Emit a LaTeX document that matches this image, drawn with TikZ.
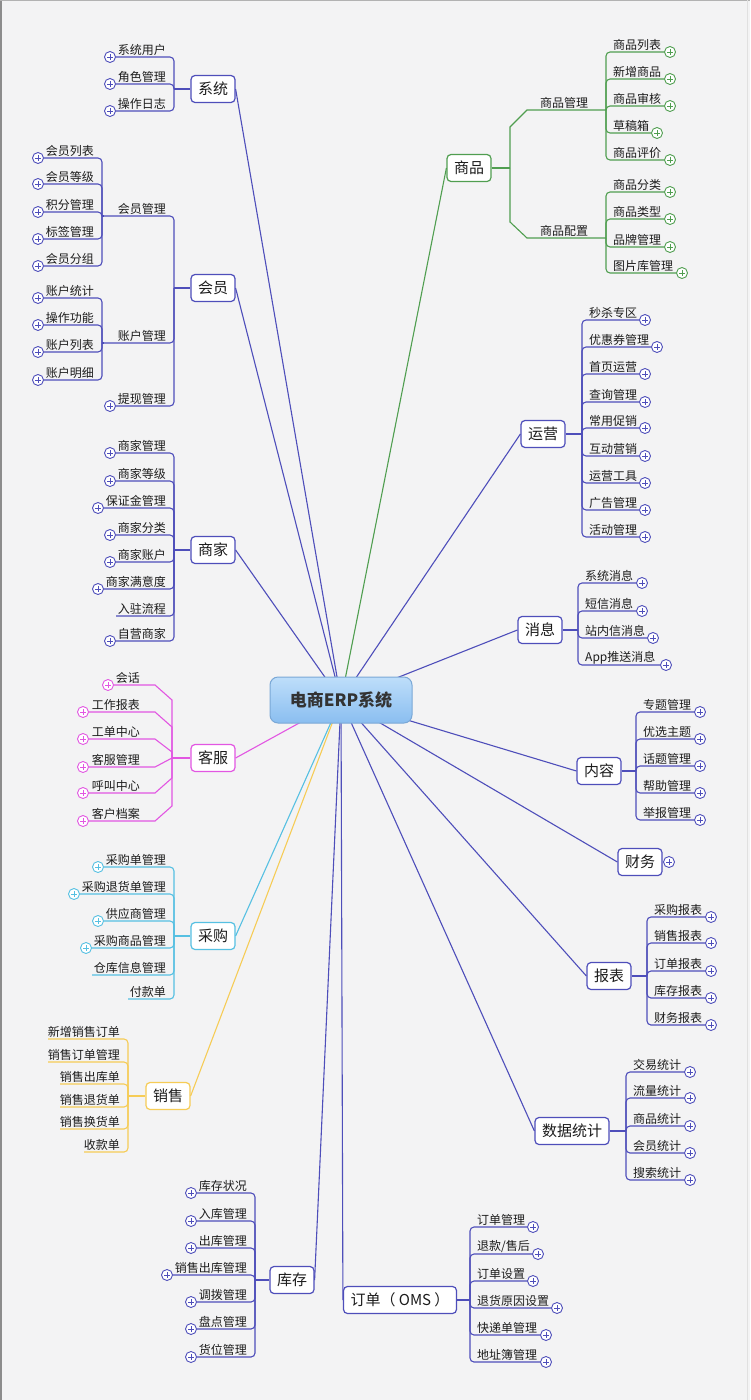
\documentclass[tikz,border=0pt]{standalone}
\usepackage{fontspec}
\setmainfont{Noto Sans CJK SC}
\usetikzlibrary{calc}
\definecolor{bgc}{RGB}{243,243,244}
\definecolor{cblue}{RGB}{78,78,186}
\definecolor{cgreen}{RGB}{80,158,80}
\definecolor{cmag}{RGB}{226,86,226}
\definecolor{ccyan}{RGB}{86,192,226}
\definecolor{cyel}{RGB}{246,204,86}
\definecolor{ctext}{RGB}{28,28,28}
\definecolor{cenb}{RGB}{122,168,214}
\definecolor{centop}{RGB}{190,222,250}
\definecolor{cenbot}{RGB}{138,190,240}
\newcommand\LL[6]{%
  \node[lbl,anchor=south east] (#1) at (#2-7,#3) {#4};
  \node[pls] (#1p) at (#5,#3) {};
  \draw[br] (#1p.east) -- (#2,#3) -- (#2,#6);}
\newcommand\LN[6]{%
  \node[lbl,anchor=south east] (#1) at (#2-7,#3) {#4};
  \coordinate (#1p) at (#5,#3);
  \draw[br] (#1p) -- (#2,#3) -- (#2,#6);}
\newcommand\RL[6]{%
  \node[lbl,anchor=south west] (#1) at (#2+6,#3) {#4};
  \node[pls] (#1p) at (#5,#3) {};
  \draw[br] (#1p.west) -- (#2,#3) -- (#2,#6);}
\newcommand\LS[5]{%
  \node[lbl,anchor=south east] (#1) at (141,#2) {#3};
  \node[pls] (#1p) at (#4,#2) {};
  \draw[conn] (#1p.east) -- (155,#2) -- (172,#5) -- (172,758);}
\begin{document}
\begin{tikzpicture}[x=1pt,y=-1pt,
  lbl/.style={font=\fontsize{12}{13}\selectfont, text=ctext, inner sep=1pt},
  pls/.style={circle, draw, fill=white, line width=0.9pt, minimum size=11pt, inner sep=0pt,
    path picture={\draw[line width=0.9pt]
      ($(path picture bounding box.center)+(-2.8,0)$) -- ($(path picture bounding box.center)+(2.8,0)$)
      ($(path picture bounding box.center)+(0,-2.8)$) -- ($(path picture bounding box.center)+(0,2.8)$);}},
  br/.style={line width=1.1pt, rounded corners=4pt},
  conn/.style={line width=1.1pt},
  topic/.style={draw, fill=white, rounded corners=4pt, line width=1.2pt, minimum height=27pt,
    inner xsep=7pt, inner ysep=0pt, text=ctext, font=\fontsize{15}{15}\selectfont},
]
\fill[bgc] (0,0) rectangle (750,1400);
\useasboundingbox (0,0) rectangle (750,1400);
\draw[black!45, line width=2pt] (1,0) -- (1,1400);
\draw[black!30, line width=1pt] (0,0.5) -- (750,0.5);
\draw[black!12, line width=1pt] (747.5,0) -- (747.5,1400);
\coordinate (c0) at (341,700);

% ---------------- 系统
\begin{scope}[color=cblue]
\node[topic] (xt) at (213,89) {系统};
\LL{xt1}{174}{57}{系统用户}{110}{89}
\LL{xt2}{174}{84}{角色管理}{110}{89}
\LL{xt3}{174}{111}{操作日志}{110}{89}
\coordinate (xtj) at (174,89);
\draw[conn] (xtj) -- (xt.west);
\draw[conn] (c0) -- (xt.east);
\end{scope}

% ---------------- 会员
\begin{scope}[color=cblue]
\node[topic] (hy) at (213,288) {会员};
\LN{hy1}{174}{216}{会员管理}{104}{288}
\LN{hy2}{174}{343}{账户管理}{104}{288}
\LL{hy3}{174}{406}{提现管理}{110}{288}
\coordinate (hyj) at (174,288);
\draw[conn] (hyj) -- (hy.west);
\LL{hya1}{102}{158}{会员列表}{38}{216}
\LL{hya2}{102}{184}{会员等级}{38}{216}
\LL{hya3}{102}{212}{积分管理}{38}{216}
\LL{hya4}{102}{239}{标签管理}{38}{216}
\LL{hya5}{102}{266}{会员分组}{38}{216}
\coordinate (hyaj) at (102,216);
\draw[conn] (hyaj) -- (hy1p);
\LL{hyb1}{102}{298}{账户统计}{38}{343}
\LL{hyb2}{102}{325}{操作功能}{38}{343}
\LL{hyb3}{102}{352}{账户列表}{38}{343}
\LL{hyb4}{102}{380}{账户明细}{38}{343}
\coordinate (hybj) at (102,343);
\draw[conn] (hybj) -- (hy2p);
\draw[conn] (c0) -- (hy.east);
\end{scope}

% ---------------- 商家
\begin{scope}[color=cblue]
\node[topic] (sj) at (213,550) {商家};
\LL{sj1}{174}{453}{商家管理}{110}{550}
\LL{sj2}{174}{481}{商家等级}{110}{550}
\LL{sj3}{174}{508}{保证金管理}{98}{550}
\LL{sj4}{174}{535}{商家分类}{110}{550}
\LL{sj5}{174}{562}{商家账户}{110}{550}
\LL{sj6}{174}{589}{商家满意度}{98}{550}
\LN{sj7}{174}{616}{入驻流程}{116}{550}
\LL{sj8}{174}{641}{自营商家}{110}{550}
\coordinate (sjj) at (174,550);
\draw[conn] (sjj) -- (sj.west);
\draw[conn] (c0) -- (sj.east);
\end{scope}

% ---------------- 客服
\begin{scope}[color=cmag]
\node[topic] (kf) at (213,758) {客服};
\LS{kf1}{685}{会话}{108}{700}
\LS{kf2}{712}{工作报表}{83}{727}
\LS{kf3}{739}{工单中心}{83}{752}
\LS{kf4}{767}{客服管理}{83}{758}
\LS{kf5}{793}{呼叫中心}{83}{778}
\LS{kf6}{821}{客户档案}{83}{806}
\coordinate (kfj) at (172,758);
\draw[conn] (kfj) -- (kf.west);
\draw[conn] (c0) -- (kf.east);
\end{scope}

% ---------------- 采购
\begin{scope}[color=ccyan]
\node[topic] (cg) at (213,936) {采购};
\LL{cg1}{174}{867}{采购单管理}{98}{936}
\LL{cg2}{174}{894}{采购退货单管理}{74}{936}
\LL{cg3}{174}{921}{供应商管理}{98}{936}
\LL{cg4}{174}{948}{采购商品管理}{86}{936}
\LN{cg5}{174}{975}{仓库信息管理}{92}{936}
\LN{cg6}{174}{999}{付款单}{128}{936}
\coordinate (cgj) at (174,936);
\draw[conn] (cgj) -- (cg.west);
\draw[conn] (c0) -- (cg.east);
\end{scope}

% ---------------- 销售
\begin{scope}[color=cyel]
\node[topic] (xs) at (168,1096) {销售};
\LN{xs1}{128}{1039}{新增销售订单}{48}{1096}
\LN{xs2}{128}{1062}{销售订单管理}{48}{1096}
\LN{xs3}{128}{1084}{销售出库单}{60}{1096}
\LN{xs4}{128}{1107}{销售退货单}{60}{1096}
\LN{xs5}{128}{1129}{销售换货单}{60}{1096}
\LN{xs6}{128}{1152}{收款单}{84}{1096}
\coordinate (xsj) at (128,1096);
\draw[conn] (xsj) -- (xs.west);
\draw[conn] (c0) -- (xs.east);
\end{scope}

% ---------------- 库存
\begin{scope}[color=cblue]
\node[topic] (kc) at (292,1280) {库存};
\LL{kc1}{255}{1193}{库存状况}{191}{1280}
\LL{kc2}{255}{1221}{入库管理}{191}{1280}
\LL{kc3}{255}{1248}{出库管理}{191}{1280}
\LL{kc4}{255}{1275}{销售出库管理}{167}{1280}
\LL{kc5}{255}{1302}{调拨管理}{191}{1280}
\LL{kc6}{255}{1329}{盘点管理}{191}{1280}
\LL{kc7}{255}{1357}{货位管理}{191}{1280}
\coordinate (kcj) at (255,1280);
\draw[conn] (kcj) -- (kc.west);
\draw[conn] (c0) -- (kc.east);
\end{scope}

% ---------------- 订单
\begin{scope}[color=cblue]
\node[topic, minimum width=110pt] (dd) at (400,1300) {订单（ OMS ）};
\RL{dd1}{470}{1227}{订单管理}{533}{1300}
\RL{dd2}{470}{1254}{退款/售后}{538}{1300}
\RL{dd3}{470}{1281}{订单设置}{533}{1300}
\RL{dd4}{470}{1308}{退货原因设置}{557}{1300}
\RL{dd5}{470}{1335}{快递单管理}{546}{1300}
\RL{dd6}{470}{1362}{地址簿管理}{546}{1300}
\coordinate (ddj) at (470,1300);
\draw[conn] (dd.east) -- (ddj);
\draw[conn] (c0) -- (dd.west);
\end{scope}

% ---------------- 商品
\begin{scope}[color=cgreen]
\node[topic] (sp) at (469,168) {商品};
\coordinate (spj) at (510,168);
\draw[conn] (sp.east) -- (spj);
\node[lbl, anchor=south] (spa) at (564,110) {商品管理};
\node[lbl, anchor=south] (spb) at (564,238) {商品配置};
\coordinate (spae) at (606,110);
\coordinate (spbe) at (606,238);
\draw[conn] (spj) -- (510,127) -- (527,110) -- (spae);
\draw[conn] (spj) -- (510,222) -- (527,238) -- (spbe);
\RL{spa1}{606}{52}{商品列表}{670}{110}
\RL{spa2}{606}{79}{新增商品}{670}{110}
\RL{spa3}{606}{106}{商品审核}{670}{110}
\RL{spa4}{606}{133}{草稿箱}{657}{110}
\RL{spa5}{606}{160}{商品评价}{670}{110}
\RL{spb1}{606}{192}{商品分类}{670}{238}
\RL{spb2}{606}{219}{商品类型}{670}{238}
\RL{spb3}{606}{247}{品牌管理}{670}{238}
\RL{spb4}{606}{273}{图片库管理}{682}{238}
\draw[conn] (c0) -- (sp.west);
\end{scope}

% ---------------- 运营
\begin{scope}[color=cblue]
\node[topic] (yy) at (543,434) {运营};
\RL{yy1}{582}{320}{秒杀专区}{645}{434}
\RL{yy2}{582}{347}{优惠券管理}{657}{434}
\RL{yy3}{582}{374}{首页运营}{645}{434}
\RL{yy4}{582}{402}{查询管理}{645}{434}
\RL{yy5}{582}{428}{常用促销}{645}{434}
\RL{yy6}{582}{456}{互动营销}{645}{434}
\RL{yy7}{582}{483}{运营工具}{645}{434}
\RL{yy8}{582}{510}{广告管理}{645}{434}
\RL{yy9}{582}{537}{活动管理}{645}{434}
\coordinate (yyj) at (582,434);
\draw[conn] (yy.east) -- (yyj);
\draw[conn] (c0) -- (yy.west);
\end{scope}

% ---------------- 消息
\begin{scope}[color=cblue]
\node[topic] (xx) at (540,630) {消息};
\RL{xx1}{578}{583}{系统消息}{642}{630}
\RL{xx2}{578}{611}{短信消息}{642}{630}
\RL{xx3}{578}{638}{站内信消息}{653}{630}
\RL{xx4}{578}{665}{App推送消息}{666}{630}
\coordinate (xxj) at (578,630);
\draw[conn] (xx.east) -- (xxj);
\draw[conn] (c0) -- (xx.west);
\end{scope}

% ---------------- 内容
\begin{scope}[color=cblue]
\node[topic] (nr) at (599,771) {内容};
\RL{nr1}{636}{712}{专题管理}{700}{771}
\RL{nr2}{636}{739}{优选主题}{700}{771}
\RL{nr3}{636}{766}{话题管理}{700}{771}
\RL{nr4}{636}{793}{帮助管理}{700}{771}
\RL{nr5}{636}{820}{举报管理}{700}{771}
\coordinate (nrj) at (636,771);
\draw[conn] (nr.east) -- (nrj);
\draw[conn] (c0) -- (nr.west);
\end{scope}

% ---------------- 财务
\begin{scope}[color=cblue]
\node[topic] (cw) at (640,862) {财务};
\node[pls] (cwp) at (669,862) {};
\draw[conn] (c0) -- (cw.west);
\end{scope}

% ---------------- 报表
\begin{scope}[color=cblue]
\node[topic] (bb) at (609,976) {报表};
\RL{bb1}{647}{917}{采购报表}{711}{976}
\RL{bb2}{647}{943}{销售报表}{711}{976}
\RL{bb3}{647}{971}{订单报表}{711}{976}
\RL{bb4}{647}{998}{库存报表}{711}{976}
\RL{bb5}{647}{1025}{财务报表}{711}{976}
\coordinate (bbj) at (647,976);
\draw[conn] (bb.east) -- (bbj);
\draw[conn] (c0) -- (bb.west);
\end{scope}

% ---------------- 数据统计
\begin{scope}[color=cblue]
\node[topic] (sjtj) at (572,1131) {数据统计};
\RL{tj1}{626}{1072}{交易统计}{690}{1131}
\RL{tj2}{626}{1098}{流量统计}{690}{1131}
\RL{tj3}{626}{1126}{商品统计}{690}{1131}
\RL{tj4}{626}{1153}{会员统计}{690}{1131}
\RL{tj5}{626}{1180}{搜索统计}{690}{1131}
\coordinate (tjj) at (626,1131);
\draw[conn] (sjtj.east) -- (tjj);
\draw[conn] (c0) -- (sjtj.west);
\end{scope}

% ---------------- central
\node[draw=cenb, line width=1pt, rounded corners=8pt, top color=centop, bottom color=cenbot,
  minimum width=142pt, minimum height=46pt, text=black!80,
  font=\fontsize{17}{17}\selectfont\bfseries] (c) at (c0) {电商ERP系统};
\end{tikzpicture}
\end{document}
